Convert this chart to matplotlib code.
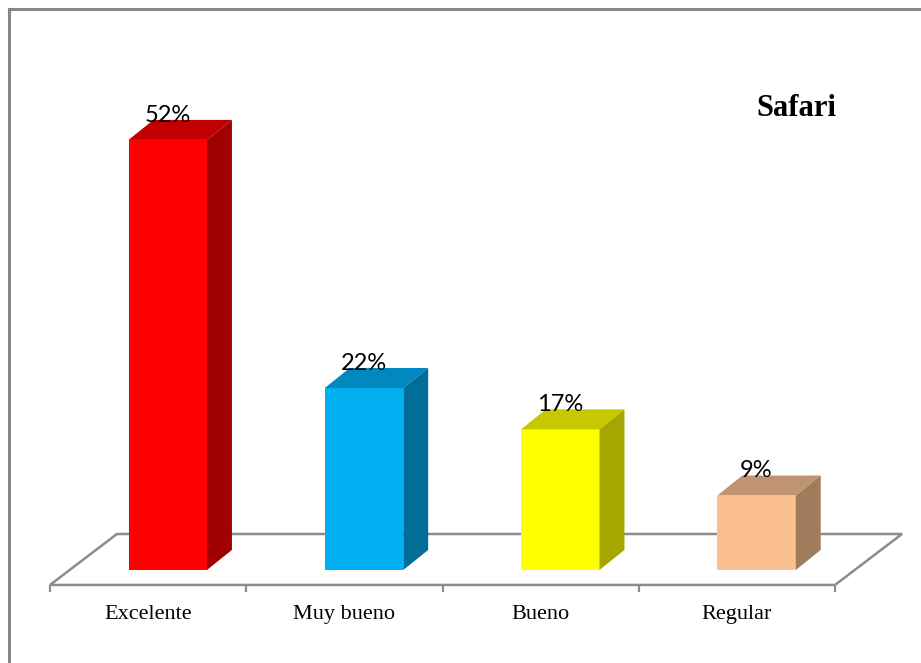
import matplotlib
matplotlib.use("Agg")
import matplotlib.pyplot as plt
from matplotlib.patches import Polygon
from matplotlib.lines import Line2D

# datos
categorias = ["Excelente", "Muy bueno", "Bueno", "Regular"]
valores = [52, 22, 17, 9]
etiquetas = ["52%", "22%", "17%", "9%"]
frente = ["#FF0000", "#00B0F0", "#FFFF00", "#FAC090"]
arriba = ["#C00000", "#0088BF", "#C8C800", "#C09472"]
lado = ["#A00000", "#006E96", "#A6A600", "#A07C5C"]

fig = plt.figure(figsize=(9.21, 6.63), dpi=100)
ax = fig.add_axes([0, 0, 1, 1])
ax.set_xlim(-0.7548, 3.938)
ax.set_ylim(-11.25, 68.92)
ax.axis("off")

# profundidad del efecto 3D (unidades de datos)
dx, dy = 0.127, 2.42
piso_dx, piso_dy = 0.341, 6.16
piso_y = -1.81
n = len(categorias)

# piso
piso = Polygon([(-0.5, piso_y), (n - 0.5, piso_y),
                (n - 0.5 + piso_dx, piso_y + piso_dy),
                (-0.5 + piso_dx, piso_y + piso_dy)],
               closed=True, facecolor="white", edgecolor="#8C8C8C",
               lw=1.8, zorder=1)
ax.add_patch(piso)
for i in range(n + 1):
    ax.plot([i - 0.5, i - 0.5], [piso_y, piso_y - 0.9], color="#8C8C8C",
            lw=1.6, zorder=1, solid_capstyle="butt")

ancho = 0.40
for i, v in enumerate(valores):
    x0 = i - 0.10
    x1 = x0 + ancho
    ax.add_patch(Polygon([(x0, 0), (x1, 0), (x1, v), (x0, v)],
                         facecolor=frente[i], edgecolor="none", zorder=3))
    ax.add_patch(Polygon([(x0, v), (x1, v), (x1 + dx, v + dy), (x0 + dx, v + dy)],
                         facecolor=arriba[i], edgecolor="none", zorder=3))
    ax.add_patch(Polygon([(x1, 0), (x1 + dx, dy), (x1 + dx, v + dy), (x1, v)],
                         facecolor=lado[i], edgecolor="none", zorder=3))
    ax.text(x0 + ancho / 2, v + 2.2, etiquetas[i], ha="center", va="baseline",
            fontsize=17, family="Lato", color="black", zorder=4)
    ax.text(i, -5.4, categorias[i], ha="center", va="center",
            fontsize=16, family="Liberation Serif", color="black")

fig.text(796 / 921, 1 - 109 / 663, "Safari", ha="center", va="center",
         fontsize=22, fontweight="bold", family="Liberation Serif")

# borde del gráfico
fig.add_artist(Line2D([8.5 / 921, 8.5 / 921], [0, 1 - 8.5 / 663],
                      transform=fig.transFigure, color="#878787", lw=2.2))
fig.add_artist(Line2D([8.5 / 921, 1], [1 - 8.5 / 663, 1 - 8.5 / 663],
                      transform=fig.transFigure, color="#878787", lw=2.2))

fig.savefig("out.png", dpi=100)
